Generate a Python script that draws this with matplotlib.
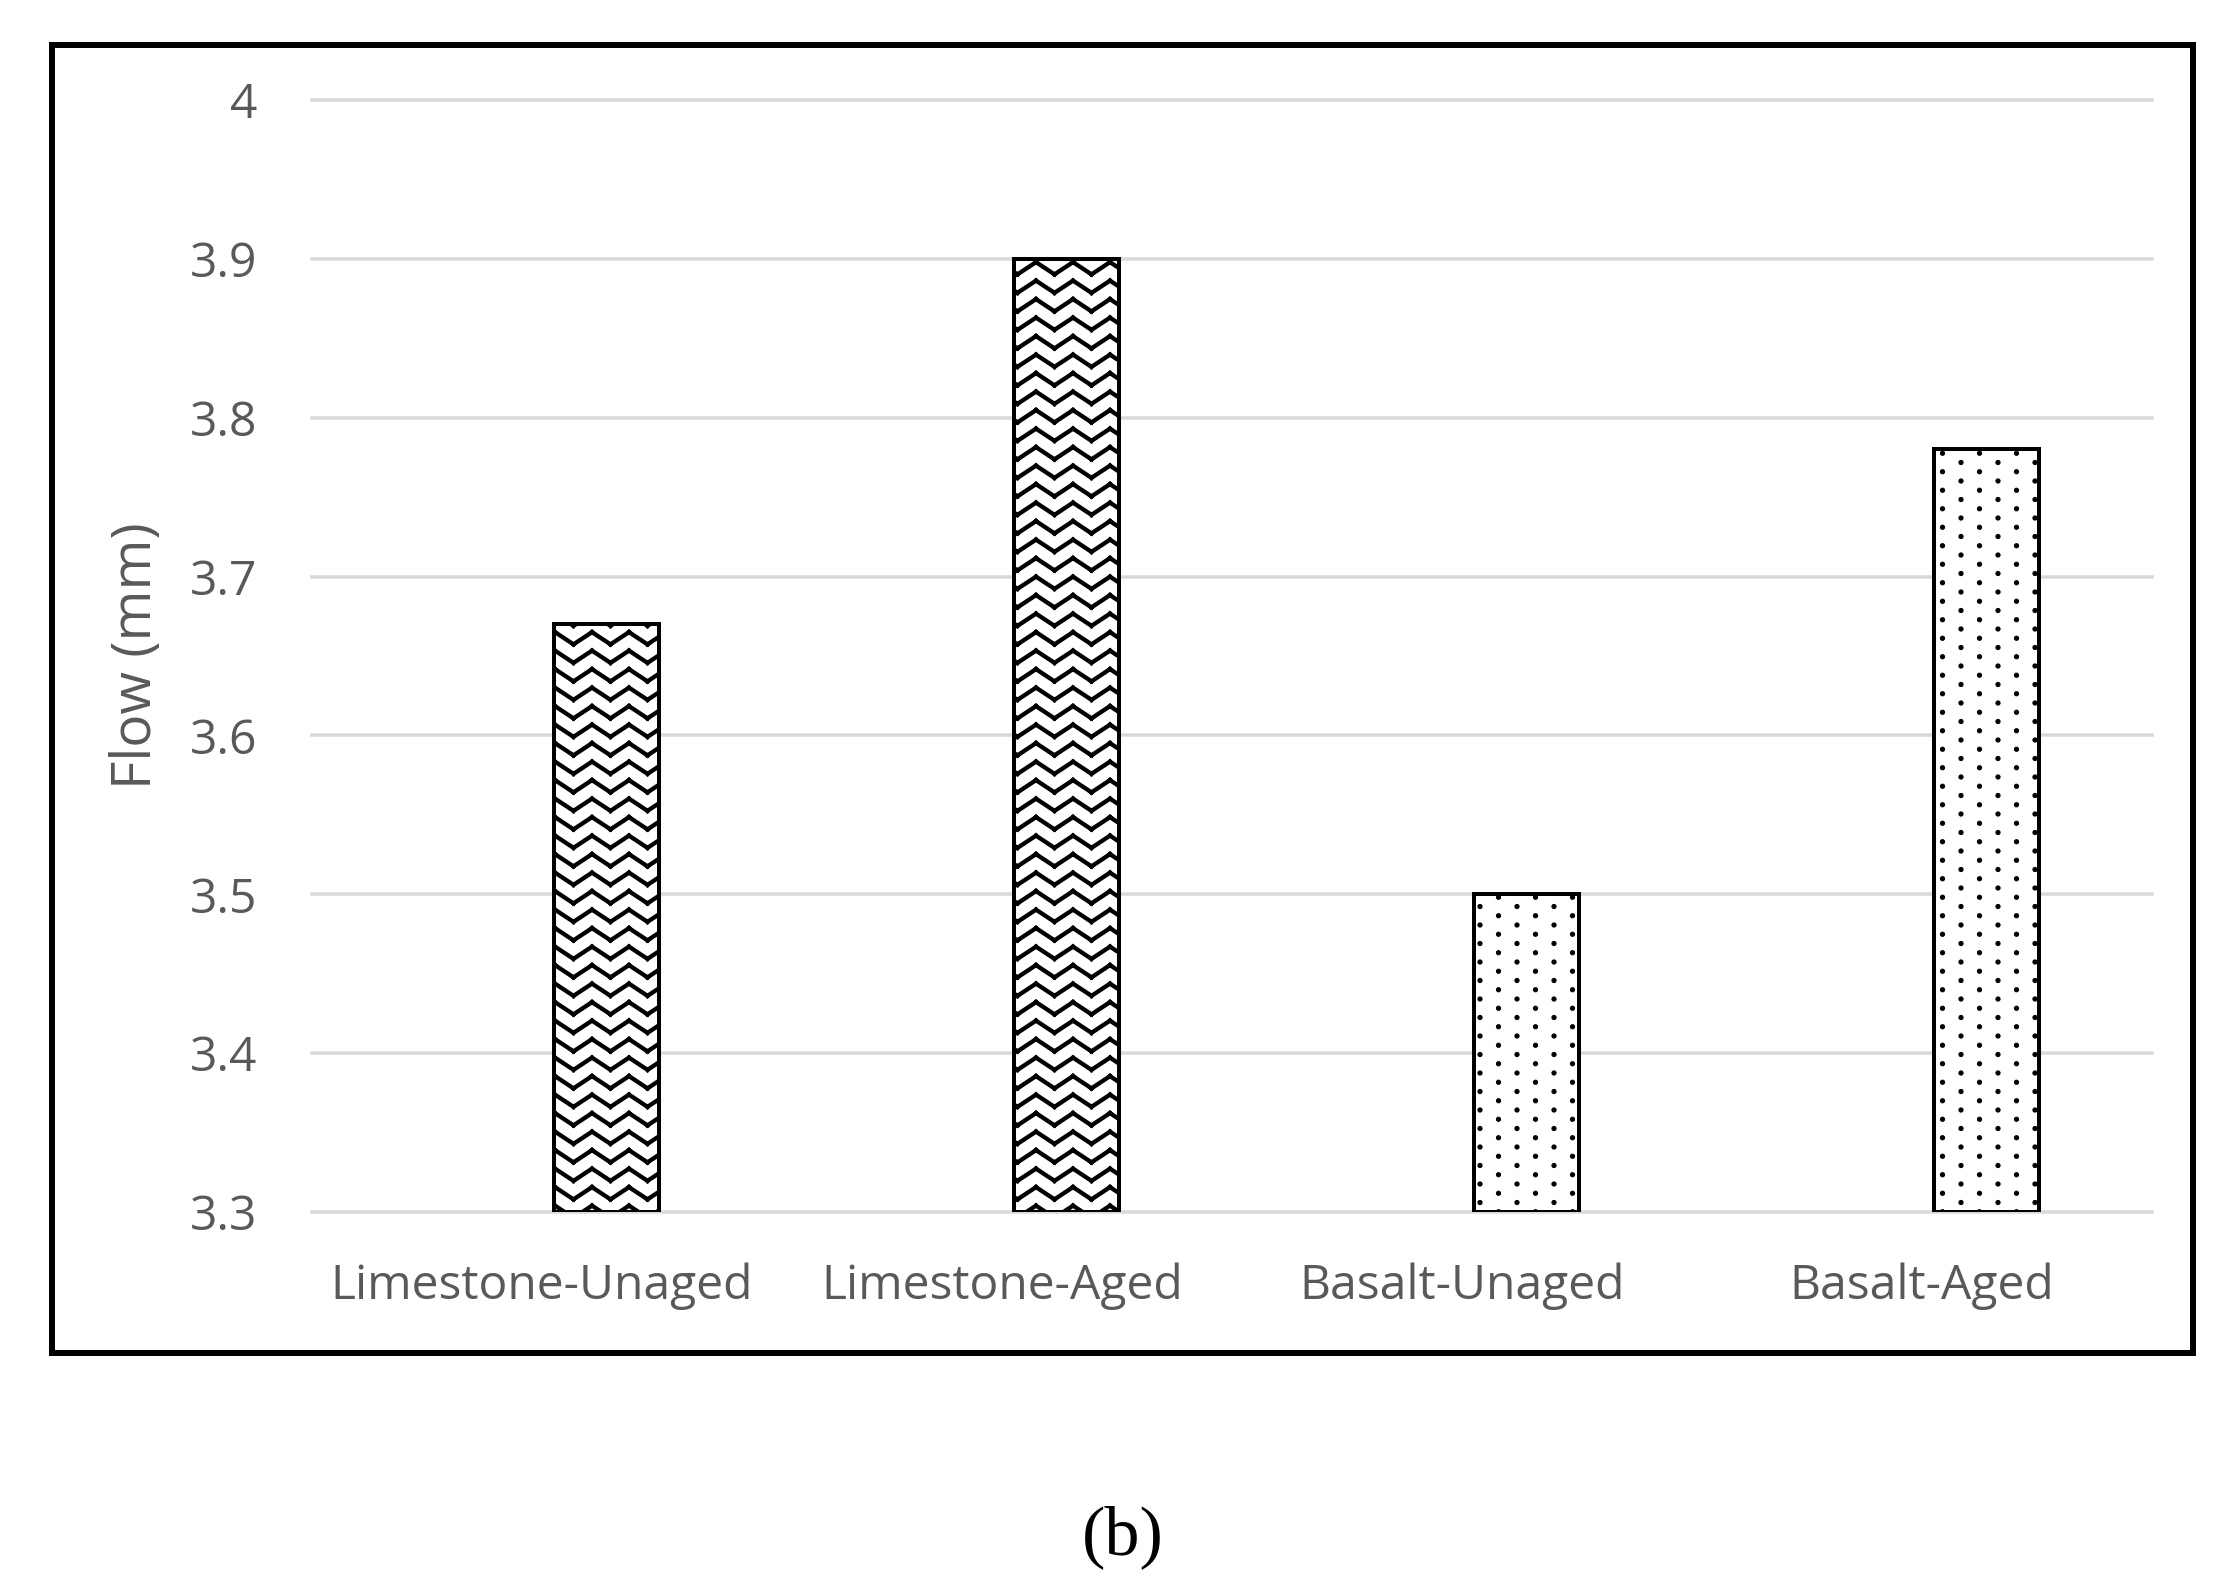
import numpy as np
import matplotlib
matplotlib.use('Agg')
import matplotlib.pyplot as plt
import matplotlib.hatch as mhatch
from matplotlib.path import Path
from matplotlib.patches import Rectangle

# ---------------- data ----------------
categories = ['Limestone-Unaged', 'Limestone-Aged', 'Basalt-Unaged', 'Basalt-Aged']
flow_mm = [3.67, 3.90, 3.50, 3.78]
hatches = ['*', '*', '.', '.']          # '*' -> zigzag, '.' -> staggered dots
y_ticks = [3.3, 3.4, 3.5, 3.6, 3.7, 3.8, 3.9, 4.0]
y_tick_labels = ['3.3', '3.4', '3.5', '3.6', '3.7', '3.8', '3.9', '4']
y_label = 'Flow (mm)'
panel_label = '(b)'

DPI = 111
W, H = 2237, 1590


def pt(px):
    return px * 72.0 / DPI


# ---------------- custom hatches ----------------
class ZigZagHatch(mhatch.HatchPatternBase):
    periods = 3
    rows = 6
    amp = 0.11

    def __init__(self, hatch, density):
        self.on = hatch.count('*') > 0
        npts = 2 * self.periods + 3
        self.num_segments = self.rows * (npts - 1) if self.on else 0
        self.num_vertices = self.num_segments * 2

    def set_vertices_and_codes(self, vertices, codes):
        half = 0.5 / self.periods
        ks = np.arange(-1, 2 * self.periods + 2)
        xs = ks * half
        i = 0
        for r in range(self.rows):
            y0 = (r + 0.5) / self.rows
            ys = y0 + np.where(ks % 2 == 0, self.amp / 2, -self.amp / 2)
            for j in range(len(ks) - 1):
                vertices[i] = (xs[j], ys[j])
                codes[i] = Path.MOVETO
                vertices[i + 1] = (xs[j + 1], ys[j + 1])
                codes[i + 1] = Path.LINETO
                i += 2


class StaggerDots(mhatch.HatchPatternBase):
    per_row = 3
    n_rows = 12
    radius = 0.019

    def __init__(self, hatch, density):
        self.on = hatch.count('.') > 0
        circ = Path.unit_circle()
        self.cv = circ.vertices
        self.cc = circ.codes
        self.centers = []
        if self.on:
            for r in range(self.n_rows + 1):
                if r % 2 == 0:
                    cols = np.linspace(0, 1, self.per_row + 1)
                else:
                    cols = (np.arange(self.per_row) + 0.5) / self.per_row
                for c in cols:
                    self.centers.append((c, r / self.n_rows))
        self.num_vertices = len(self.centers) * len(self.cv)

    def set_vertices_and_codes(self, vertices, codes):
        n = len(self.cv)
        for i, (cx, cy) in enumerate(self.centers):
            vertices[i * n:(i + 1) * n] = self.cv * self.radius + (cx, cy)
            codes[i * n:(i + 1) * n] = self.cc


mhatch._hatch_types[:] = [ZigZagHatch, StaggerDots]

# ---------------- figure ----------------
plt.rcParams['font.family'] = ['Open Sans', 'DejaVu Sans']
plt.rcParams['hatch.color'] = 'black'

fig = plt.figure(figsize=(W / DPI, H / DPI), dpi=DPI)
fig.patch.set_facecolor('white')
ax = fig.add_axes([312 / W, 1 - 1212 / H, (2152 - 312) / W, (1212 - 100) / H])

x = np.arange(len(categories))
bar_offset = 0.14
bar_width = 0.228
base = y_ticks[0]

for yv in y_ticks:
    ax.axhline(yv, color='#d9d9d9', linewidth=pt(3.5), zorder=0, clip_on=False)

for xi, v, h in zip(x, flow_mm, hatches):
    lw_h = pt(4.3) if h == '*' else pt(1.0)
    plt.rcParams['hatch.linewidth'] = lw_h
    bars = ax.bar(xi + bar_offset, v - base, bottom=base, width=bar_width,
                  color='white', edgecolor='black', linewidth=pt(4.0),
                  hatch=h, zorder=3)
    for b in bars:
        if hasattr(b, 'set_hatch_linewidth'):
            b.set_hatch_linewidth(lw_h)

ax.set_xlim(-0.5, 3.5)
ax.set_ylim(3.3, 4.0)
ax.set_yticks(y_ticks, y_tick_labels)
ax.set_xticks(x, categories)
for s in ax.spines.values():
    s.set_visible(False)
ax.tick_params(axis='both', length=0, labelsize=pt(48), colors='#595959')
ax.tick_params(axis='y', pad=pt(55))
ax.tick_params(axis='x', pad=pt(50))

ax.set_ylabel(y_label, fontsize=pt(55), color='#595959', va='center')
ax.yaxis.set_label_coords((137 - 312) / (2152 - 312), 0.5)

fig.text(1123 / W, 1 - 1537 / H, panel_label, family=['Liberation Serif', 'DejaVu Serif'],
         fontsize=pt(70), ha='center', va='center', color='black')

fig.patches.append(Rectangle((52 / W, 1 - 1353 / H), (2193 - 52) / W, (1353 - 45) / H,
                             transform=fig.transFigure, fill=False,
                             edgecolor='black', linewidth=pt(6)))

fig.savefig('out.png', dpi=DPI, facecolor='white')
